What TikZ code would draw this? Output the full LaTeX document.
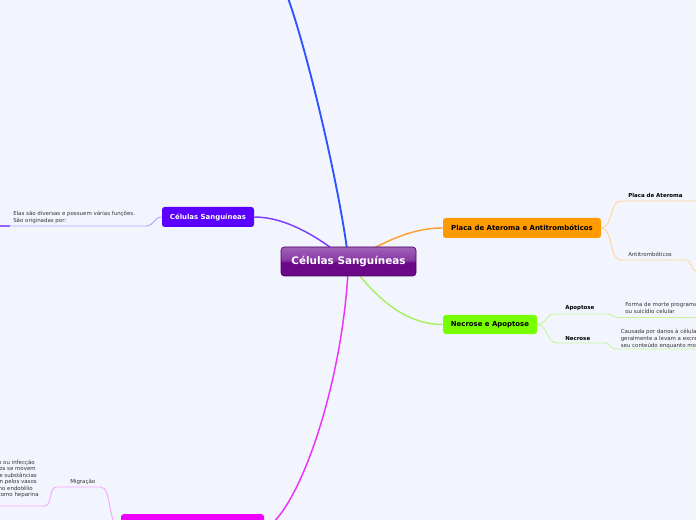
\documentclass[tikz,border=0pt]{standalone}
\usepackage{fontspec}
\setmainfont{DejaVu Sans}
\usetikzlibrary{backgrounds}
\definecolor{bg}{HTML}{F3F5FE}
\definecolor{plight}{HTML}{A062B8}
\definecolor{pmid}{HTML}{8A3AA6}
\definecolor{pdark}{HTML}{6A0888}
\definecolor{pborder}{HTML}{4A0462}
\definecolor{cblue}{HTML}{2B54FF}
\definecolor{cpur}{HTML}{7B3CFF}
\definecolor{npur}{HTML}{5A00FF}
\definecolor{lpur}{HTML}{B8A0FF}
\definecolor{corg}{HTML}{FFA030}
\definecolor{norg}{HTML}{FF9A00}
\definecolor{lorg}{HTML}{FFD59A}
\definecolor{cgrn}{HTML}{A8F060}
\definecolor{ngrn}{HTML}{77FF00}
\definecolor{lgrn}{HTML}{C6F59C}
\definecolor{cmag}{HTML}{EE30F8}
\definecolor{nmag}{HTML}{EE00FF}
\definecolor{lmag}{HTML}{F5A8FA}
\definecolor{txt}{HTML}{333333}
\pgfdeclareverticalshading{gloss}{100bp}{color(0bp)=(pdark); color(25bp)=(pdark); color(48bp)=(pdark); color(53bp)=(pmid); color(75bp)=(plight); color(100bp)=(plight)}
\newcommand{\leaffont}{\fontsize{4.1pt}{5.25pt}\selectfont}
\begin{document}
\begin{tikzpicture}[x=0.75pt,y=-0.75pt,
  central/.style={draw=pborder, line width=0.5pt, rounded corners=2.5pt, shading=gloss, text=white,
     font=\fontsize{7.8pt}{9pt}\selectfont\bfseries, minimum width=101.25pt, minimum height=21.75pt, inner sep=0pt},
  branch/.style={rounded corners=2pt, font=\fontsize{5.2pt}{6pt}\selectfont\bfseries, minimum height=15pt, inner sep=0pt},
  label/.style={font=\leaffont\bfseries, inner sep=0pt, text=black},
  plain/.style={font=\leaffont, inner sep=0pt, text=txt, align=left},
  con/.style={line width=1.1pt},
  leaf/.style={line width=0.7pt}]
\useasboundingbox (0,0) rectangle (696,520);
\clip (0,0) rectangle (696,520);

% nodes
\node[central] (c) at (348.5,261.5) {Células Sanguíneas};
\node[branch, fill=npur, text=white, minimum width=69pt] (p) at (208,217) {Células Sanguíneas};
\node[branch, fill=norg, text=black, minimum width=118.5pt] (o) at (522,228) {Placa de Ateroma e Antitrombóticos};
\node[branch, fill=ngrn, text=black, minimum width=70.5pt, minimum height=14.25pt] (g) at (490,324.5) {Necrose e Apoptose};
\node[branch, fill=nmag, minimum width=107.25pt, minimum height=23pt] (m) at (192.5,529.5) {};
\coordinate (top) at (288,-2);

% texts
\node[plain, anchor=north west] (pt) at (13,211) {Elas são diversas e possuem várias funções.\\São originadas por:};
\node[label, anchor=base west] (la1) at (628,198) {Placa de Ateroma};
\node[plain, anchor=base west] (la2) at (628,257) {Antitrombóticos};
\node[label, anchor=base west] (ga1) at (565,310) {Apoptose};
\node[label, anchor=base west] (ga2) at (565,340) {Necrose};
\node[plain, anchor=north west] (gt1) at (625,302.5) {Forma de morte programada\\ou suicídio celular};
\node[plain, anchor=north west] (gt2) at (620.5,328.5) {Causada por danos à células que\\geralmente a levam a excretar\\seu conteúdo enquanto morrem};
\node[plain, anchor=base west] (ma1) at (70,483) {Migração};
\node[plain, anchor=north east, align=right, font=\fontsize{4.1pt}{4.9pt}\selectfont] (mt) at (39,459.5) {Em casos de lesão ou infecção\kern3pt\\os leucócitos se movem\kern2.25pt\\em direção de substâncias\kern1.5pt\\que circulan pelos vasos\kern1.5pt\\e se aderem no endotélio\kern4.5pt\\liberando substâncias como heparina};

% coordinates for underline ends
\coordinate (pu1) at (146,226);
\coordinate (pu0) at (0,226);
\coordinate (ou1s) at (621,201);
\coordinate (ou1e) at (697,201);
\coordinate (ou2s) at (621,260);
\coordinate (ou2e) at (686,260);
\coordinate (ou2f) at (697,271);
\coordinate (gu1s) at (555,314);
\coordinate (gu1e) at (607,314);
\coordinate (gu1f) at (619,317.5);
\coordinate (gu1g) at (697,317.5);
\coordinate (gu2s) at (557,343);
\coordinate (gu2e) at (605,343);
\coordinate (gu2f) at (617,349);
\coordinate (gu2g) at (697,349);
\coordinate (mu1s) at (101,487);
\coordinate (mu1e) at (57,487);
\coordinate (mu2s) at (44,506);
\coordinate (mu2e) at (-1,506);

\begin{scope}[on background layer]
\clip (0,0) rectangle (696,520);
\fill[bg] (0,0) rectangle (696,520);
\draw[con, cblue, line width=1.4pt] (c.center) .. controls (342,200) and (310,60) .. (top);
\draw[con, cpur] (c.center) .. controls (318,236) and (285,217) .. (p.east);
\draw[con, corg] (c.center) .. controls (385,242) and (410,228) .. (o.west);
\draw[con, cgrn] (c.center) .. controls (370,290) and (400,324.5) .. (g.west);
\draw[con, cmag] (c.center) .. controls (344,380) and (300,510) .. (m.east);
% purple leaf
\draw[leaf, lpur] (p.west) .. controls (154,217) and (154,226) .. (pu1) -- (pu0);
\draw[line width=1pt, cpur!80] (pu0) -- ++(10,0);
% orange leaves
\draw[leaf, lorg] (o.east) .. controls (613,228) and (609,201) .. (ou1s) -- (ou1e);
\draw[leaf, lorg] (o.east) .. controls (613,228) and (609,260) .. (ou2s) -- (ou2e) .. controls (692,260) and (690,271) .. (ou2f);
% green leaves
\draw[leaf, lgrn] (g.east) .. controls (547,324.5) and (545,314) .. (gu1s) -- (gu1e) .. controls (612,314) and (612,317.5) .. (gu1f) -- (gu1g);
\draw[leaf, lgrn] (g.east) .. controls (547,324.5) and (547,343) .. (gu2s) -- (gu2e) .. controls (611,343) and (609,349) .. (gu2f) -- (gu2g);
% magenta leaves
\draw[leaf, lmag] (m.west) .. controls (108,529) and (112,487) .. (mu1s) -- (mu1e) .. controls (48,487) and (53,506) .. (mu2s) -- (mu2e);
\end{scope}
\end{tikzpicture}
\end{document}
